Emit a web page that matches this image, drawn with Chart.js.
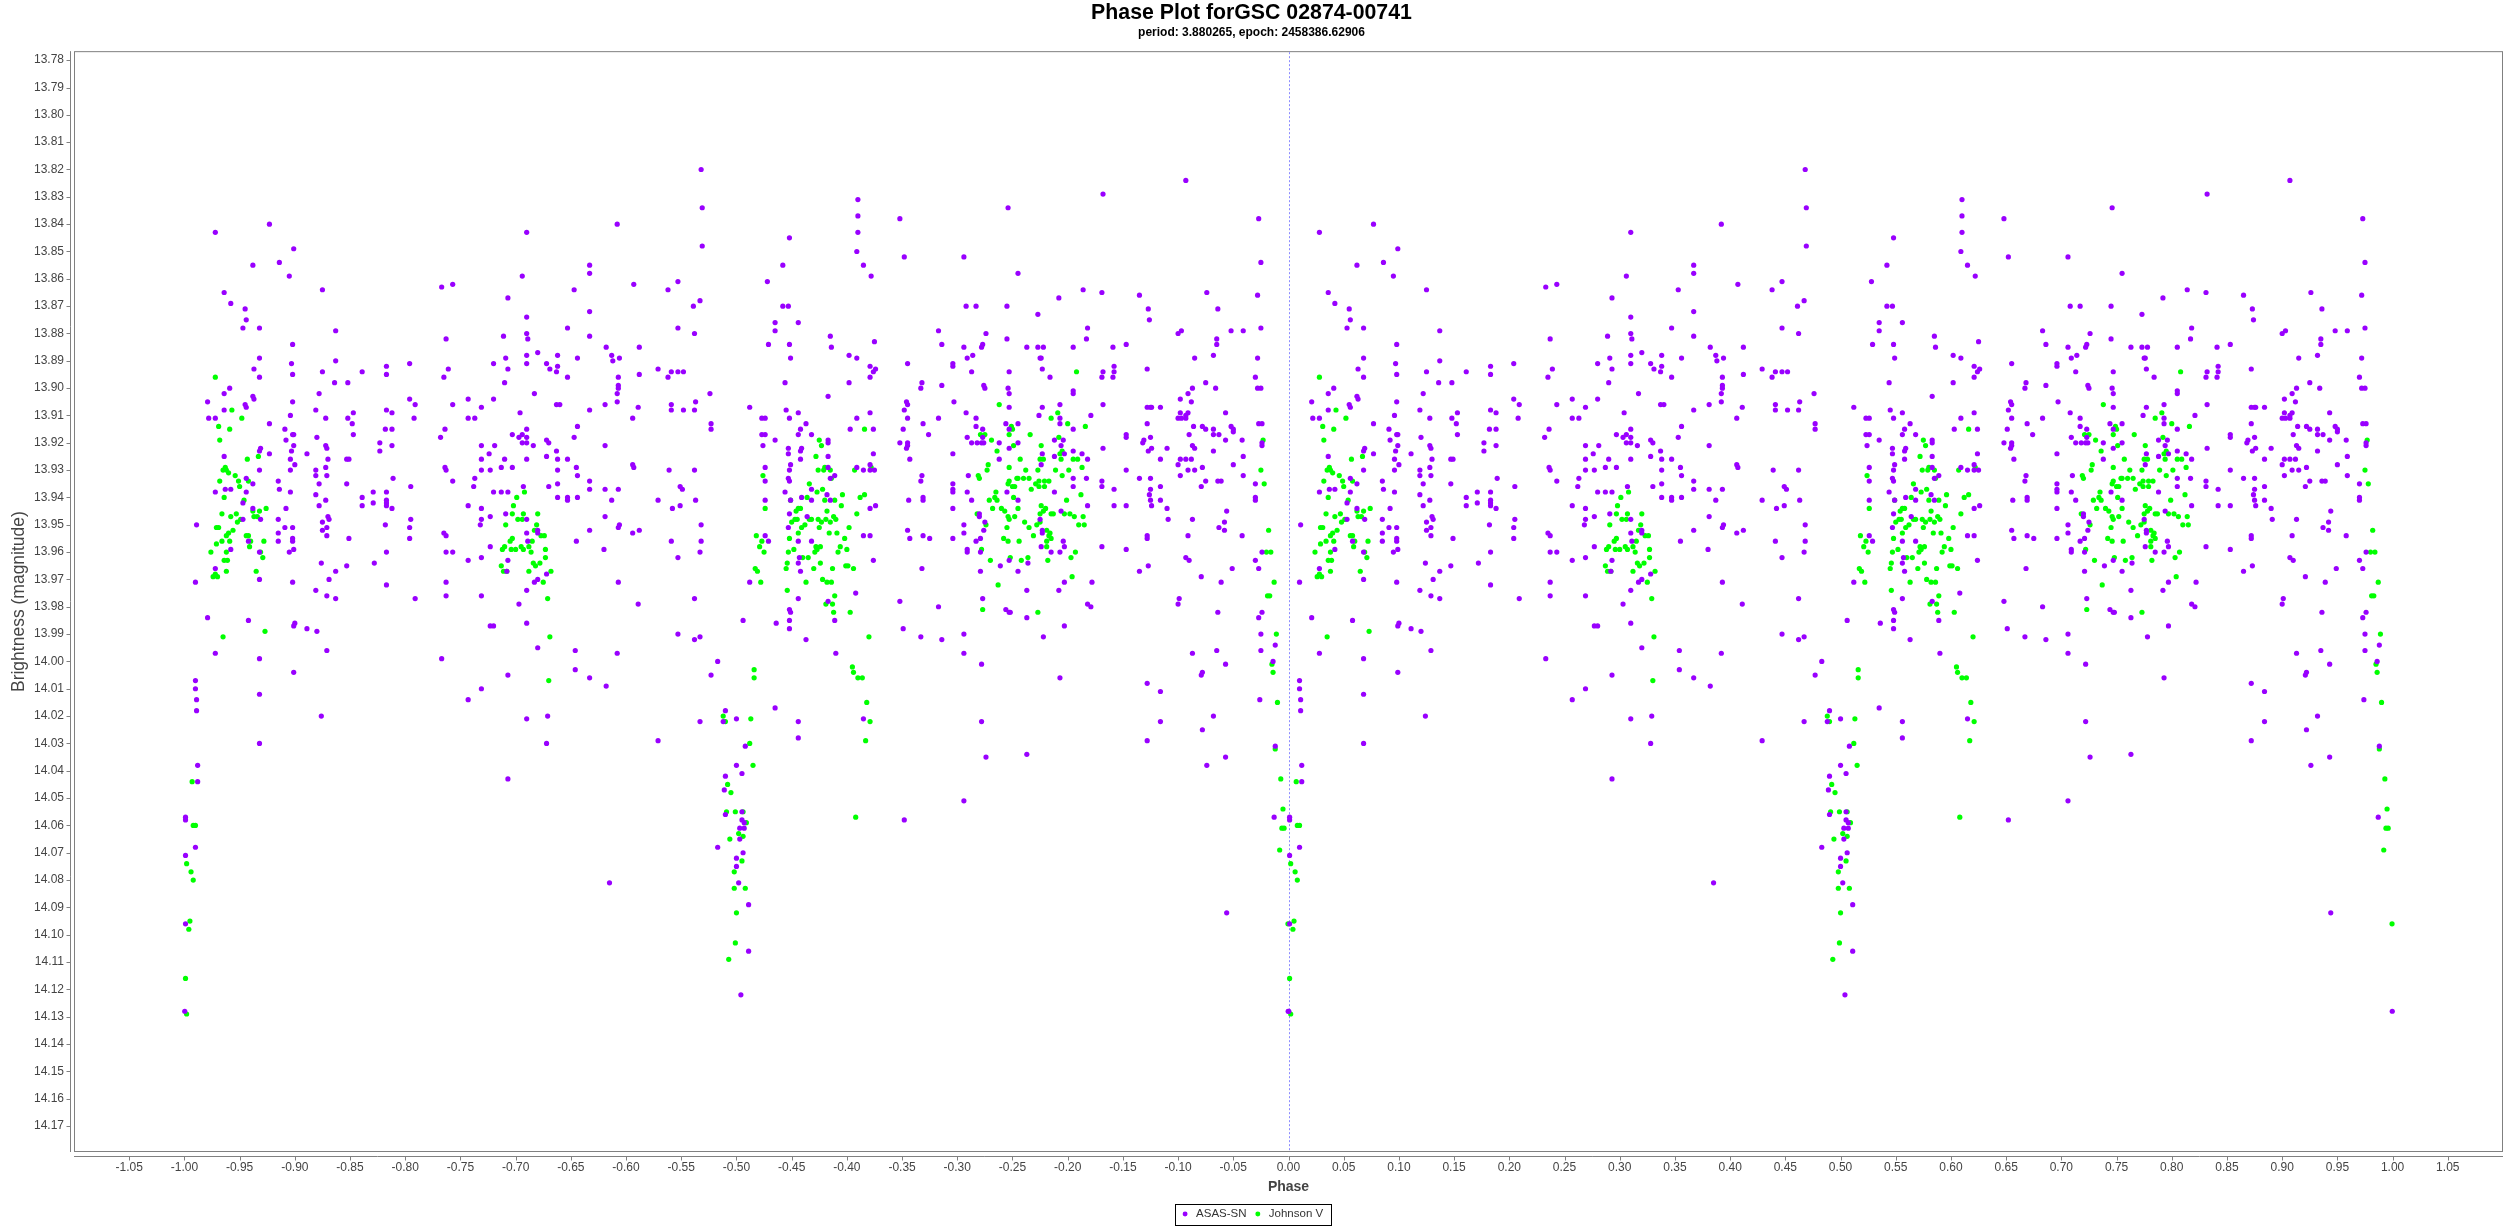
<!DOCTYPE html>
<html>
<head>
<meta charset="utf-8">
<title>Phase Plot</title>
<script src="https://cdn.jsdelivr.net/npm/chart.js@4.4.1/dist/chart.umd.min.js"></script>
<style>
  html, body { margin: 0; padding: 0; background: #fff; }
  #wrap { position: relative; width: 2517px; height: 1226px; }
</style>
</head>
<body>
<div id="wrap"><canvas id="phasePlot"></canvas></div>
<script>
// one cycle of observations, [phase, magnitude]; the plot shows each one at phase-1 and phase
const asasSn = [
  [0.077,13.840],[0.028,13.843],[0.099,13.849],[0.062,13.855],[0.086,13.854],[0.095,13.859],[0.125,13.864],[0.233,13.863],
  [0.243,13.862],[0.036,13.865],[0.042,13.869],[0.055,13.871],[0.056,13.875],[0.053,13.878],[0.068,13.878],[0.137,13.879],
  [0.237,13.882],[0.098,13.884],[0.068,13.889],[0.137,13.890],[0.097,13.891],[0.063,13.893],[0.125,13.894],[0.161,13.894],
  [0.183,13.892],[0.204,13.891],[0.098,13.895],[0.183,13.895],[0.239,13.893],[0.235,13.896],[0.068,13.896],[0.136,13.898],
  [0.148,13.898],[0.041,13.900],[0.036,13.902],[0.122,13.902],[0.062,13.903],[0.063,13.904],[0.021,13.905],[0.098,13.905],
  [0.055,13.906],[0.056,13.907],[0.204,13.904],[0.209,13.906],[0.243,13.906],[0.036,13.908],[0.119,13.908],[0.183,13.908],
  [0.188,13.909],[0.153,13.909],[0.096,13.910],[0.022,13.911],[0.028,13.911],[0.128,13.911],[0.148,13.911],[0.208,13.911],
  [0.077,13.913],[0.152,13.913],[0.091,13.915],[0.098,13.917],[0.099,13.917],[0.153,13.917],[0.182,13.915],[0.188,13.915],
  [0.236,13.915],[0.232,13.918],[0.120,13.918],[0.092,13.919],[0.177,13.920],[0.099,13.921],[0.128,13.921],[0.188,13.921],
  [0.069,13.922],[0.129,13.922],[0.068,13.923],[0.097,13.923],[0.177,13.923],[0.077,13.924],[0.111,13.924],[0.036,13.925],
  [0.147,13.926],[0.149,13.926],[0.096,13.926],[0.130,13.926],[0.100,13.928],[0.128,13.929],[0.236,13.929],[0.237,13.930],
  [0.096,13.930],[0.068,13.930],[0.119,13.930],[0.119,13.932],[0.129,13.932],[0.056,13.933],[0.189,13.933],[0.085,13.934],
  [0.062,13.935],[0.122,13.935],[0.147,13.935],[0.243,13.934],[0.205,13.936],[0.086,13.937],[0.037,13.937],[0.042,13.937],
  [0.028,13.938],[0.056,13.938],[0.096,13.938],[0.171,13.938],[0.183,13.938],[0.119,13.939],[0.161,13.940],[0.183,13.941],
  [0.128,13.941],[0.053,13.942],[0.171,13.942],[0.183,13.942],[0.122,13.943],[0.161,13.943],[0.183,13.943],[0.092,13.944],
  [0.062,13.944],[0.188,13.944],[0.130,13.947],[0.131,13.948],[0.053,13.948],[0.069,13.948],[0.085,13.948],[0.205,13.948],
  [0.125,13.949],[0.011,13.950],[0.182,13.950],[0.091,13.951],[0.098,13.951],[0.129,13.951],[0.204,13.951],[0.125,13.952],
  [0.085,13.953],[0.235,13.953],[0.237,13.954],[0.129,13.954],[0.098,13.955],[0.149,13.955],[0.204,13.955],[0.098,13.956],
  [0.058,13.956],[0.085,13.956],[0.042,13.959],[0.099,13.959],[0.095,13.960],[0.183,13.960],[0.068,13.960],[0.237,13.960],
  [0.243,13.960],[0.124,13.964],[0.147,13.965],[0.172,13.964],[0.028,13.966],[0.137,13.967],[0.068,13.970],[0.131,13.970],
  [0.010,13.971],[0.098,13.971],[0.183,13.972],[0.237,13.971],
  [0.119,13.974],[0.129,13.976],[0.137,13.977],[0.209,13.977],[0.237,13.976],[0.021,13.984],[0.058,13.985],[0.099,13.987],
  [0.100,13.986],[0.111,13.988],[0.120,13.989],[0.028,13.997],[0.068,13.999],[0.129,13.996],[0.233,13.999],[0.099,14.004],
  [0.010,14.007],[0.010,14.010],[0.068,14.012],[0.011,14.014],[0.011,14.018],[0.124,14.020],[0.068,14.030],[0.012,14.038],
  [0.012,14.044],[0.001,14.057],[0.001,14.058],[0.010,14.068],[0.001,14.071],[0.001,14.096],[0.0003,14.128],
  [0.468,13.820],[0.469,13.834],[0.392,13.840],[0.310,13.843],[0.469,13.848],[0.367,13.855],[0.367,13.858],[0.306,13.859],
  [0.353,13.864],[0.407,13.862],[0.438,13.864],[0.447,13.861],[0.467,13.868],[0.293,13.867],[0.461,13.870],[0.367,13.872],
  [0.310,13.874],[0.347,13.878],[0.447,13.878],[0.289,13.881],[0.310,13.880],[0.311,13.882],[0.367,13.881],[0.462,13.880],
  [0.382,13.885],[0.412,13.885],[0.320,13.887],[0.387,13.888],[0.394,13.889],[0.388,13.890],[0.291,13.889],[0.310,13.888],
  [0.338,13.888],[0.356,13.889],[0.280,13.891],[0.310,13.891],[0.328,13.891],[0.338,13.892],[0.293,13.893],[0.331,13.893],
  [0.337,13.894],[0.429,13.893],[0.441,13.894],[0.447,13.894],[0.452,13.894],[0.412,13.895],[0.393,13.896],[0.438,13.896],
  [0.290,13.898],[0.347,13.896],[0.393,13.899],[0.393,13.900],[0.392,13.902],[0.317,13.902],[0.476,13.902],[0.257,13.904],
  [0.280,13.904],[0.392,13.905],[0.463,13.905],[0.337,13.906],[0.340,13.906],[0.381,13.906],[0.441,13.906],[0.269,13.907],
  [0.411,13.907],[0.367,13.908],[0.441,13.908],[0.452,13.908],[0.462,13.908],[0.304,13.909],[0.257,13.911],[0.263,13.911],
  [0.406,13.911],[0.477,13.913],[0.356,13.914],[0.310,13.915],[0.477,13.915],[0.297,13.917],[0.306,13.917],[0.303,13.918],
  [0.310,13.918],[0.353,13.918],[0.328,13.919],[0.330,13.920],[0.306,13.920],[0.310,13.920],[0.269,13.921],[0.281,13.921],
  [0.316,13.921],[0.381,13.921],[0.337,13.923],[0.276,13.924],[0.328,13.925],[0.338,13.926],[0.269,13.926],[0.290,13.926],
  [0.310,13.926],[0.347,13.926],[0.406,13.928],[0.407,13.929],[0.287,13.929],[0.297,13.929],[0.355,13.929],[0.277,13.930],
  [0.338,13.930],[0.462,13.930],[0.269,13.930],[0.439,13.930],[0.356,13.932],[0.263,13.933],[0.367,13.934],[0.338,13.935],
  [0.262,13.936],[0.307,13.936],[0.330,13.936],[0.449,13.936],[0.451,13.937],[0.367,13.937],[0.381,13.937],[0.393,13.937],
  [0.280,13.938],[0.287,13.938],[0.293,13.938],[0.338,13.940],[0.347,13.940],[0.356,13.940],[0.347,13.941],[0.429,13.941],
  [0.463,13.941],[0.387,13.941],[0.257,13.943],[0.449,13.943],[0.269,13.944],[0.442,13.944],[0.291,13.946],[0.277,13.947],
  [0.381,13.947],[0.269,13.948],[0.310,13.948],[0.268,13.950],[0.394,13.950],[0.393,13.951],[0.468,13.950],[0.367,13.952],
  [0.412,13.952],[0.320,13.952],[0.320,13.953],[0.310,13.953],[0.406,13.953],[0.355,13.956],[0.468,13.956],[0.311,13.956],
  [0.441,13.956],[0.277,13.958],[0.380,13.959],[0.467,13.960],[0.447,13.962],[0.269,13.962],[0.257,13.963],[0.293,13.963],
  [0.292,13.967],[0.328,13.968],[0.320,13.970],[0.317,13.971],[0.393,13.971],
  [0.269,13.976],[0.310,13.974],[0.303,13.979],[0.411,13.979],[0.462,13.977],[0.277,13.987],[0.280,13.987],[0.310,13.986],
  [0.447,13.990],[0.462,13.992],[0.467,13.991],[0.320,13.995],[0.354,13.996],[0.392,13.997],[0.483,14.000],[0.293,14.005],
  [0.354,14.003],[0.367,14.006],[0.477,14.005],[0.269,14.010],[0.382,14.009],[0.257,14.014],[0.490,14.018],[0.310,14.021],
  [0.329,14.020],[0.467,14.022],[0.488,14.022],[0.328,14.030],[0.429,14.029],[0.293,14.043],[0.490,14.042],[0.489,14.047],
  [0.490,14.056],[0.483,14.068],[0.385,14.081],
  [0.610,13.831],[0.610,13.837],[0.648,13.838],[0.610,13.843],[0.548,13.845],[0.609,13.850],[0.652,13.852],[0.706,13.852],
  [0.746,13.834],[0.542,13.855],[0.615,13.855],[0.622,13.859],[0.528,13.861],[0.542,13.870],[0.547,13.870],[0.708,13.870],
  [0.717,13.870],[0.745,13.870],[0.535,13.876],[0.556,13.876],[0.535,13.879],[0.683,13.879],[0.726,13.880],[0.585,13.881],
  [0.745,13.882],[0.625,13.883],[0.529,13.884],[0.548,13.884],[0.686,13.884],[0.723,13.884],[0.706,13.885],[0.586,13.885],
  [0.722,13.885],[0.602,13.888],[0.714,13.888],[0.709,13.889],[0.549,13.889],[0.609,13.889],[0.655,13.891],[0.696,13.891],
  [0.696,13.892],[0.621,13.892],[0.626,13.893],[0.624,13.894],[0.713,13.894],[0.747,13.894],[0.621,13.896],[0.544,13.898],
  [0.602,13.898],[0.668,13.898],[0.667,13.900],[0.686,13.899],[0.724,13.899],[0.725,13.900],[0.746,13.900],[0.747,13.902],
  [0.583,13.903],[0.654,13.905],[0.655,13.906],[0.697,13.905],[0.512,13.907],[0.545,13.908],[0.652,13.908],[0.556,13.909],
  [0.621,13.909],[0.708,13.909],[0.747,13.907],[0.523,13.911],[0.526,13.911],[0.548,13.911],[0.609,13.911],[0.655,13.911],
  [0.683,13.911],[0.717,13.911],[0.563,13.913],[0.669,13.913],[0.744,13.913],[0.717,13.914],[0.603,13.915],[0.624,13.915],
  [0.651,13.915],[0.558,13.915],[0.723,13.915],[0.747,13.915],[0.523,13.917],[0.526,13.917],[0.556,13.917],[0.568,13.917],
  [0.674,13.917],[0.723,13.918],[0.709,13.918],[0.535,13.919],[0.583,13.919],[0.583,13.920],[0.655,13.920],[0.648,13.920],
  [0.713,13.920],[0.718,13.920],[0.722,13.920],[0.724,13.920],[0.738,13.920],[0.524,13.921],[0.655,13.921],[0.654,13.922],
  [0.547,13.922],[0.559,13.922],[0.747,13.922],[0.547,13.924],[0.558,13.923],[0.624,13.924],[0.696,13.924],[0.583,13.925],
  [0.657,13.926],[0.738,13.926],[0.558,13.926],[0.549,13.928],[0.621,13.928],[0.526,13.929],[0.583,13.929],[0.609,13.929],
  [0.548,13.930],[0.615,13.930],[0.621,13.930],[0.625,13.930],[0.589,13.932],[0.668,13.932],[0.710,13.932],[0.547,13.933],
  [0.585,13.933],[0.548,13.934],[0.526,13.934],[0.667,13.934],[0.696,13.935],[0.568,13.937],[0.544,13.938],[0.582,13.939],
  [0.696,13.937],[0.696,13.938],[0.709,13.938],[0.745,13.938],[0.669,13.940],[0.526,13.941],[0.549,13.941],[0.559,13.940],
  [0.568,13.941],[0.585,13.941],[0.656,13.941],[0.669,13.941],[0.713,13.941],[0.626,13.943],[0.621,13.944],[0.696,13.944],
  [0.548,13.946],[0.564,13.947],[0.720,13.946],[0.720,13.947],[0.547,13.951],[0.706,13.950],[0.725,13.949],[0.655,13.952],
  [0.724,13.952],[0.706,13.953],[0.526,13.954],[0.615,13.954],[0.621,13.954],[0.669,13.954],[0.657,13.955],[0.675,13.955],
  [0.696,13.955],[0.721,13.955],[0.529,13.956],[0.556,13.956],[0.568,13.956],[0.717,13.956],[0.709,13.959],[0.721,13.960],
  [0.709,13.960],[0.557,13.962],[0.624,13.963],[0.556,13.964],[0.739,13.965],[0.747,13.963],[0.668,13.966],[0.558,13.967],
  [0.721,13.967],[0.512,13.971],
  [0.556,13.977],[0.583,13.978],[0.608,13.975],[0.648,13.978],[0.683,13.980],[0.723,13.977],[0.744,13.981],[0.747,13.982],
  [0.548,13.981],[0.549,13.982],[0.506,13.985],[0.536,13.986],[0.548,13.985],[0.548,13.988],[0.589,13.985],[0.651,13.988],
  [0.667,13.991],[0.686,13.992],[0.706,13.990],[0.563,13.992],[0.590,13.997],[0.706,13.997],[0.722,14.001],[0.535,14.017],
  [0.500,14.021],[0.556,14.022],[0.615,14.021],[0.722,14.022],[0.556,14.028],[0.508,14.031],[0.726,14.035],[0.500,14.038],
  [0.505,14.041],[0.706,14.051],[0.652,14.058],[0.505,14.055],[0.505,14.058],[0.507,14.059],[0.503,14.061],[0.507,14.061],
  [0.503,14.065],[0.506,14.070],[0.500,14.072],[0.500,14.075],[0.502,14.081],[0.511,14.089],[0.511,14.106],[0.504,14.122],
  [0.907,13.824],[0.832,13.829],[0.973,13.838],[0.975,13.854],[0.755,13.858],[0.814,13.864],[0.831,13.865],[0.792,13.867],
  [0.865,13.866],[0.926,13.865],[0.972,13.866],[0.873,13.871],[0.936,13.871],[0.773,13.873],[0.874,13.875],[0.818,13.878],
  [0.900,13.880],[0.903,13.879],[0.948,13.879],[0.959,13.879],[0.975,13.878],[0.817,13.882],[0.935,13.882],[0.935,13.884],
  [0.853,13.884],[0.763,13.885],[0.773,13.885],[0.778,13.885],[0.805,13.885],[0.841,13.885],[0.932,13.888],[0.775,13.889],
  [0.776,13.889],[0.915,13.889],[0.972,13.889],[0.842,13.892],[0.777,13.893],[0.842,13.894],[0.872,13.893],[0.832,13.894],
  [0.831,13.896],[0.841,13.896],[0.784,13.896],[0.970,13.896],[0.925,13.898],[0.934,13.900],[0.805,13.901],[0.805,13.902],
  [0.913,13.900],[0.909,13.902],[0.972,13.900],[0.975,13.900],[0.902,13.904],[0.912,13.905],[0.793,13.906],[0.832,13.906],
  [0.777,13.907],[0.872,13.907],[0.875,13.907],[0.876,13.907],[0.884,13.907],[0.902,13.909],[0.909,13.909],[0.907,13.910],
  [0.943,13.909],[0.774,13.910],[0.821,13.910],[0.793,13.911],[0.900,13.911],[0.903,13.911],[0.907,13.911],[0.793,13.913],
  [0.755,13.913],[0.872,13.913],[0.973,13.913],[0.976,13.913],[0.914,13.914],[0.922,13.914],[0.925,13.915],[0.932,13.915],
  [0.948,13.914],[0.950,13.915],[0.950,13.916],[0.805,13.915],[0.910,13.917],[0.932,13.917],[0.937,13.917],[0.853,13.917],
  [0.853,13.918],[0.875,13.918],[0.788,13.919],[0.796,13.919],[0.943,13.919],[0.958,13.919],[0.868,13.920],[0.869,13.919],
  [0.755,13.920],[0.794,13.921],[0.913,13.921],[0.915,13.922],[0.976,13.920],[0.976,13.921],[0.832,13.922],[0.876,13.922],
  [0.890,13.922],[0.873,13.923],[0.932,13.923],[0.805,13.923],[0.777,13.924],[0.797,13.924],[0.813,13.924],[0.788,13.925],
  [0.959,13.925],[0.818,13.926],[0.884,13.926],[0.907,13.926],[0.902,13.926],[0.900,13.928],[0.912,13.926],[0.776,13.928],
  [0.950,13.928],[0.922,13.929],[0.853,13.930],[0.909,13.930],[0.915,13.930],[0.959,13.932],[0.902,13.932],[0.805,13.933],
  [0.817,13.933],[0.865,13.933],[0.875,13.933],[0.831,13.934],[0.925,13.934],[0.936,13.934],[0.939,13.934],[0.970,13.935],
  [0.805,13.936],[0.831,13.936],[0.884,13.936],[0.921,13.936],[0.842,13.937],[0.875,13.937],[0.788,13.938],[0.874,13.939],
  [0.970,13.940],[0.875,13.941],[0.755,13.941],[0.970,13.941],[0.884,13.941],[0.818,13.943],[0.842,13.943],[0.853,13.943],
  [0.876,13.943],[0.890,13.944],[0.794,13.945],[0.944,13.945],[0.775,13.948],[0.891,13.948],[0.913,13.948],[0.942,13.949],
  [0.937,13.951],[0.942,13.952],[0.777,13.952],[0.777,13.953],[0.909,13.954],[0.872,13.954],[0.872,13.955],[0.958,13.954],
  [0.796,13.956],[0.797,13.958],[0.776,13.958],[0.831,13.958],[0.853,13.959],[0.785,13.960],[0.793,13.960],[0.976,13.960],
  [0.907,13.962],[0.910,13.963],[0.970,13.963],[0.764,13.964],[0.873,13.965],[0.949,13.966],[0.973,13.966],[0.755,13.967],
  [0.865,13.967],[0.921,13.969],[0.797,13.971],[0.822,13.971],[0.939,13.971],
  [0.763,13.974],[0.792,13.974],[0.901,13.977],[0.900,13.979],[0.818,13.979],[0.821,13.980],[0.748,13.982],[0.763,13.984],
  [0.936,13.982],[0.973,13.984],[0.976,13.982],[0.797,13.987],[0.778,13.991],[0.975,13.990],[0.988,13.994],[0.913,13.997],
  [0.935,13.996],[0.975,13.996],[0.986,14.000],[0.943,14.001],[0.793,14.006],[0.922,14.004],[0.921,14.005],[0.872,14.008],
  [0.884,14.011],[0.974,14.014],[0.932,14.020],[0.884,14.022],[0.922,14.025],[0.872,14.029],[0.763,14.034],[0.988,14.031],
  [0.943,14.035],[0.926,14.038],[0.987,14.057],[0.944,14.092],[0.9997,14.128]
];

const johnsonV = [
  [0.028,13.896],[0.043,13.908],[0.052,13.911],[0.031,13.914],[0.041,13.915],[0.032,13.919],[0.067,13.925],[0.057,13.926],
  [0.037,13.929],[0.035,13.930],[0.038,13.930],[0.040,13.931],[0.046,13.932],[0.032,13.934],[0.049,13.934],[0.058,13.934],
  [0.050,13.936],[0.036,13.940],[0.054,13.941],[0.074,13.944],[0.068,13.945],[0.062,13.945],[0.034,13.946],[0.047,13.946],
  [0.042,13.947],[0.063,13.947],[0.066,13.947],[0.051,13.948],[0.048,13.949],[0.029,13.951],[0.031,13.951],[0.044,13.952],
  [0.040,13.953],[0.038,13.954],[0.056,13.954],[0.058,13.954],[0.034,13.956],[0.041,13.956],[0.029,13.957],[0.072,13.956],
  [0.060,13.956],[0.059,13.958],[0.038,13.960],[0.024,13.960],[0.069,13.960],[0.071,13.962],[0.036,13.963],[0.039,13.963],
  [0.038,13.967],[0.065,13.967],[0.026,13.969],[0.028,13.968],[0.030,13.969],
  [0.035,13.991],[0.073,13.989],[0.007,14.044],[0.008,14.060],[0.010,14.060],[0.002,14.074],[0.006,14.077],[0.008,14.080],
  [0.005,14.095],[0.004,14.098],[0.001,14.116],[0.002,14.129],
  [0.301,13.940],[0.308,13.938],[0.298,13.943],[0.297,13.946],[0.307,13.946],[0.320,13.946],[0.302,13.948],[0.306,13.948],
  [0.291,13.950],[0.319,13.950],[0.317,13.952],[0.323,13.954],[0.326,13.954],[0.297,13.955],[0.295,13.956],[0.290,13.958],
  [0.288,13.959],[0.296,13.959],[0.300,13.959],[0.305,13.958],[0.307,13.959],[0.312,13.958],[0.315,13.956],[0.327,13.959],
  [0.314,13.960],[0.327,13.962],[0.316,13.964],[0.318,13.965],[0.322,13.964],[0.287,13.965],[0.289,13.967],[0.292,13.967],
  [0.312,13.967],[0.332,13.967],[0.325,13.971],
  [0.329,13.977],[0.331,13.991],[0.330,14.007],[0.488,14.020],[0.490,14.022],[0.492,14.045],[0.495,14.048],[0.491,14.055],
  [0.494,14.065],[0.493,14.109],
  [0.738,13.906],[0.616,13.915],[0.721,13.917],[0.725,13.917],[0.575,13.919],[0.577,13.921],[0.731,13.919],[0.747,13.917],
  [0.572,13.925],[0.736,13.923],[0.580,13.929],[0.574,13.930],[0.579,13.930],[0.585,13.930],[0.607,13.930],[0.622,13.929],
  [0.728,13.928],[0.727,13.930],[0.747,13.929],[0.524,13.932],[0.719,13.932],[0.720,13.933],[0.586,13.933],[0.566,13.935],
  [0.746,13.935],[0.747,13.934],[0.578,13.937],[0.573,13.938],[0.596,13.939],[0.616,13.939],[0.612,13.940],[0.564,13.940],
  [0.735,13.938],[0.734,13.940],[0.736,13.941],[0.729,13.941],[0.549,13.941],[0.580,13.941],[0.589,13.941],[0.595,13.943],
  [0.526,13.944],[0.556,13.944],[0.558,13.944],[0.732,13.944],[0.740,13.944],[0.554,13.945],[0.582,13.945],[0.609,13.946],
  [0.718,13.946],[0.743,13.945],[0.746,13.947],[0.588,13.947],[0.553,13.948],[0.555,13.948],[0.566,13.948],[0.568,13.948],
  [0.574,13.948],[0.581,13.948],[0.590,13.948],[0.550,13.949],[0.562,13.950],[0.577,13.949],[0.585,13.949],[0.747,13.948],
  [0.726,13.950],[0.559,13.951],[0.575,13.951],[0.602,13.951],[0.745,13.951],[0.556,13.953],[0.584,13.953],[0.591,13.953],
  [0.518,13.954],[0.548,13.955],[0.598,13.955],[0.742,13.955],[0.523,13.956],[0.521,13.958],[0.572,13.958],[0.576,13.958],
  [0.594,13.958],[0.573,13.959],[0.552,13.959],[0.600,13.959],[0.722,13.959],[0.746,13.956],[0.547,13.960],[0.525,13.960],
  [0.571,13.960],[0.592,13.960],[0.560,13.962],[0.565,13.962],[0.730,13.963],[0.546,13.964],[0.576,13.964],[0.599,13.965],
  [0.601,13.965],[0.517,13.966],[0.519,13.967],[0.545,13.966],[0.570,13.966],[0.587,13.966],[0.606,13.966],[0.522,13.971],
  [0.563,13.971],[0.578,13.970],[0.582,13.971],[0.586,13.971],[0.737,13.972],
  [0.546,13.974],[0.589,13.976],[0.581,13.979],[0.587,13.979],[0.588,13.982],[0.603,13.982],[0.723,13.981],[0.620,13.991],
  [0.516,14.003],[0.516,14.006],[0.605,14.002],[0.606,14.004],[0.610,14.006],[0.614,14.006],[0.618,14.015],[0.513,14.021],
  [0.621,14.022],[0.512,14.030],[0.617,14.029],[0.515,14.038],[0.499,14.055],[0.506,14.055],[0.509,14.059],[0.502,14.063],
  [0.506,14.064],[0.608,14.057],[0.505,14.073],[0.498,14.077],[0.508,14.083],[0.498,14.083],[0.500,14.092],[0.499,14.103],
  [0.808,13.894],[0.791,13.909],[0.785,13.911],[0.800,13.913],[0.816,13.914],[0.749,13.914],[0.750,13.915],[0.766,13.917],
  [0.792,13.918],[0.776,13.921],[0.751,13.921],[0.795,13.923],[0.793,13.924],[0.757,13.926],[0.775,13.926],[0.778,13.926],
  [0.794,13.926],[0.805,13.926],[0.809,13.926],[0.977,13.919],[0.813,13.929],[0.762,13.930],[0.789,13.930],[0.801,13.930],
  [0.975,13.930],[0.773,13.930],[0.795,13.932],[0.754,13.933],[0.755,13.933],[0.760,13.933],[0.765,13.933],[0.978,13.935],
  [0.774,13.934],[0.779,13.934],[0.783,13.934],[0.771,13.935],[0.750,13.936],[0.752,13.936],[0.774,13.936],[0.779,13.936],
  [0.767,13.937],[0.812,13.939],[0.751,13.940],[0.799,13.941],[0.776,13.943],[0.755,13.944],[0.780,13.944],[0.778,13.945],
  [0.775,13.946],[0.785,13.946],[0.787,13.946],[0.797,13.946],[0.802,13.946],[0.806,13.947],[0.814,13.947],[0.752,13.947],
  [0.761,13.949],[0.772,13.950],[0.775,13.949],[0.810,13.950],[0.815,13.950],[0.765,13.951],[0.781,13.952],[0.784,13.953],
  [0.783,13.954],[0.769,13.954],[0.785,13.955],[0.781,13.956],[0.756,13.956],[0.781,13.958],[0.982,13.952],[0.807,13.960],
  [0.803,13.962],[0.764,13.962],[0.758,13.963],[0.748,13.962],[0.782,13.963],[0.980,13.960],[0.984,13.960],[0.804,13.969],
  [0.987,13.971],
  [0.981,13.976],[0.983,13.976],[0.773,13.982],[0.989,13.990],[0.985,14.001],[0.986,14.004],[0.990,14.015],[0.988,14.032],
  [0.993,14.043],[0.995,14.054],[0.994,14.061],[0.996,14.061],[0.992,14.069],[0.9995,14.096]
];

const seriesNames = ['ASAS-SN', 'Johnson V'];
const seriesColors = ['#9900ff', '#00ff00'];

const xTicks = [-1.05, -1.00, -0.95, -0.90, -0.85, -0.80, -0.75, -0.70, -0.65, -0.60, -0.55, -0.50, -0.45, -0.40,
  -0.35, -0.30, -0.25, -0.20, -0.15, -0.10, -0.05, 0.00, 0.05, 0.10, 0.15, 0.20, 0.25, 0.30, 0.35, 0.40, 0.45,
  0.50, 0.55, 0.60, 0.65, 0.70, 0.75, 0.80, 0.85, 0.90, 0.95, 1.00, 1.05];
const yTicks = [13.78, 13.79, 13.80, 13.81, 13.82, 13.83, 13.84, 13.85, 13.86, 13.87, 13.88, 13.89, 13.90, 13.91,
  13.92, 13.93, 13.94, 13.95, 13.96, 13.97, 13.98, 13.99, 14.00, 14.01, 14.02, 14.03, 14.04, 14.05, 14.06, 14.07,
  14.08, 14.09, 14.10, 14.11, 14.12, 14.13, 14.14, 14.15, 14.16, 14.17];

// phase plot convention: every observation is drawn twice, one cycle apart
function toPoints(list) {
  const pts = [];
  list.forEach(([p, m]) => {
    pts.push({ x: p - 1, y: m });
    pts.push({ x: p, y: m });
  });
  return pts;
}

const AXIS_GREY = '#808080';
const TEXT_GREY = '#444444';

// plot outline, offset axis lines with tick marks, zero-phase marker, legend box
const framePlugin = {
  id: 'frame',
  beforeDatasetsDraw(chart) {
    const { ctx, chartArea: a, scales: { x, y } } = chart;
    ctx.save();
    ctx.strokeStyle = AXIS_GREY;
    ctx.lineWidth = 1;
    ctx.strokeRect(a.left + 0.5, a.top + 0.5, a.right - a.left - 1, a.bottom - a.top - 1);

    ctx.beginPath();
    ctx.moveTo(a.left - 3.5, a.top);
    ctx.lineTo(a.left - 3.5, a.bottom);
    y.ticks.forEach(t => {
      const py = Math.round(y.getPixelForValue(t.value)) + 0.5;
      ctx.moveTo(a.left - 7.5, py);
      ctx.lineTo(a.left - 3.5, py);
    });
    ctx.moveTo(a.left, a.bottom + 4.5);
    ctx.lineTo(a.right, a.bottom + 4.5);
    x.ticks.forEach(t => {
      const px = Math.round(x.getPixelForValue(t.value)) + 0.5;
      ctx.moveTo(px, a.bottom + 4.5);
      ctx.lineTo(px, a.bottom + 8.5);
    });
    ctx.stroke();

    const zx = Math.round(x.getPixelForValue(0)) + 0.5;
    ctx.strokeStyle = '#8c8cff';
    ctx.setLineDash([2, 2]);
    ctx.beginPath();
    ctx.moveTo(zx, a.top + 1);
    ctx.lineTo(zx, a.bottom - 1);
    ctx.stroke();
    ctx.restore();
  },
  afterDraw(chart) {
    const hb = chart.legend && chart.legend.legendHitBoxes;
    if (!hb || !hb.length) return;
    const first = hb[0];
    const last = hb[hb.length - 1];
    const cy = first.top + first.height / 2;
    const left = Math.round(first.left - 4.5) + 0.5;
    const right = Math.round(last.left + last.width + 7.5) + 0.5;
    const top = Math.round(cy - 10.5) + 0.5;
    const bottom = Math.round(cy + 11) + 0.5;
    const ctx = chart.ctx;
    ctx.save();
    ctx.strokeStyle = '#000000';
    ctx.lineWidth = 1;
    ctx.strokeRect(left, top, right - left, bottom - top);
    ctx.restore();
  }
};

Chart.defaults.font.family = '"Liberation Sans", Arial, sans-serif';
Chart.defaults.color = TEXT_GREY;

new Chart(document.getElementById('phasePlot'), {
  type: 'scatter',
  data: {
    datasets: [asasSn, johnsonV].map((list, i) => ({
      label: seriesNames[i],
      data: toPoints(list),
      backgroundColor: seriesColors[i],
      borderWidth: 0,
      pointRadius: 2.6,
      pointHoverRadius: 2.6,
      pointStyle: 'circle'
    }))
  },
  options: {
    responsive: true,
    maintainAspectRatio: false,
    devicePixelRatio: 1,
    animation: false,
    layout: { padding: { top: 0, right: 14, bottom: -3.75, left: 0 } },
    plugins: {
      title: {
        display: true,
        text: 'Phase Plot forGSC 02874-00741',
        color: '#000000',
        font: { size: 21.3, weight: 'bold' },
        padding: { top: 0, bottom: 0 }
      },
      subtitle: {
        display: true,
        text: 'period: 3.880265, epoch: 2458386.62906',
        color: '#000000',
        font: { size: 12, weight: 'bold' },
        padding: { top: 0.2, bottom: 11 }
      },
      legend: {
        display: true,
        position: 'bottom',
        labels: {
          usePointStyle: true,
          boxWidth: 10.5,
          boxHeight: 3.5,
          padding: 6,
          color: '#333333',
          font: { size: 11.5 }
        }
      },
      tooltip: { enabled: false }
    },
    scales: {
      x: {
        type: 'linear',
        position: 'bottom',
        min: -1.1,
        max: 1.1,
        afterBuildTicks: axis => { axis.ticks = xTicks.map(v => ({ value: v })); },
        afterFit: axis => { axis.height = 50.25; },
        grid: { display: false, drawTicks: false },
        border: { display: false },
        ticks: {
          padding: 8,
          color: TEXT_GREY,
          font: { size: 12 },
          maxRotation: 0,
          autoSkip: false,
          callback: v => Number(v).toFixed(2)
        },
        title: {
          display: true,
          text: 'Phase',
          color: TEXT_GREY,
          font: { size: 14, weight: 'bold' },
          padding: { top: 0, bottom: 6.85 }
        }
      },
      y: {
        type: 'linear',
        position: 'left',
        reverse: true,
        min: 13.7767,
        max: 14.1795,
        afterBuildTicks: axis => { axis.ticks = yTicks.map(v => ({ value: v })); },
        afterFit: axis => { axis.width = 74; },
        grid: { display: false, drawTicks: false },
        border: { display: false },
        ticks: {
          padding: 10,
          color: TEXT_GREY,
          font: { size: 12 },
          autoSkip: false,
          callback: v => Number(v).toFixed(2)
        },
        title: {
          display: true,
          text: 'Brightness (magnitude)',
          color: TEXT_GREY,
          font: { size: 17.5, weight: 'normal' },
          padding: { top: 8.5, bottom: 0 }
        }
      }
    }
  },
  plugins: [framePlugin]
});
</script>
</body>
</html>
